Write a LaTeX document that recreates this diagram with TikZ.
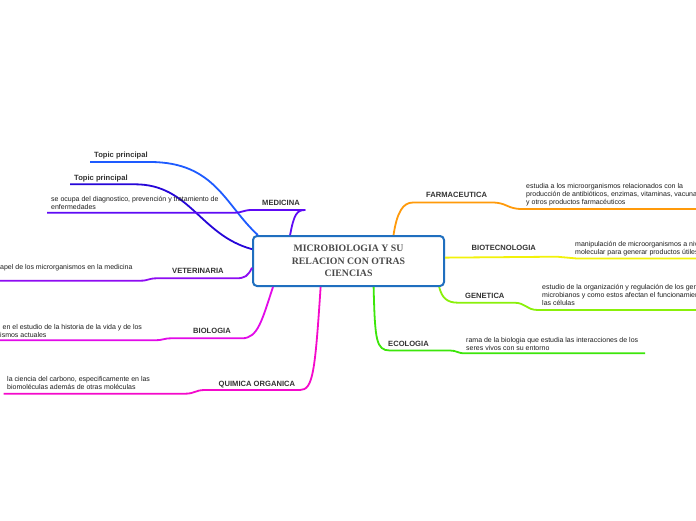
\documentclass[tikz,border=0pt]{standalone}
\usepackage{fontspec}
\setmainfont{Liberation Sans}
\newfontfamily\titlefont{Liberation Serif}
\definecolor{cTopA}{HTML}{1E5BFF}
\definecolor{cTopB}{HTML}{2606D8}
\definecolor{cMed}{HTML}{5E0AF5}
\definecolor{cVet}{HTML}{8E0CF2}
\definecolor{cBio}{HTML}{E20AE8}
\definecolor{cQui}{HTML}{F40ACB}
\definecolor{cFar}{HTML}{FF9A0A}
\definecolor{cBtc}{HTML}{F2F20A}
\definecolor{cGen}{HTML}{8AF00A}
\definecolor{cEco}{HTML}{3CE60A}
\definecolor{cBox}{HTML}{1F6FBF}
\definecolor{lblgray}{HTML}{333333}
\definecolor{txtgray}{HTML}{1E1E1E}
\definecolor{titlegray}{HTML}{4A4A4A}
\begin{document}
\begin{tikzpicture}[x=1pt,y=-1pt,
  lbl/.style={font=\fontsize{7.6}{9}\selectfont\bfseries, text=lblgray, inner sep=0pt, anchor=base west},
  txt/.style={font=\fontsize{7}{8}\selectfont, text=txtgray, inner sep=0pt, anchor=north west, align=left},
  br/.style={line width=1.8pt, line join=round}]
\useasboundingbox[fill=white] (0,0) rectangle (696,520);

% central topic
\node[draw=cBox, line width=2pt, rounded corners=4pt, fill=white,
      minimum width=191pt, minimum height=50pt, inner sep=0pt,
      align=center, text=titlegray,
      font=\titlefont\bfseries\fontsize{9.8}{12.3}\selectfont] (c) at (348.5,261)
  {MICROBIOLOGIA Y SU\\RELACION CON OTRAS\\CIENCIAS};

% coordinates of line ends
\coordinate (tA1) at (150,162);   \coordinate (tA0) at (90,162);
\coordinate (tB1) at (135,184.3); \coordinate (tB0) at (70,184.3);
\coordinate (med1) at (305,210); \coordinate (med2) at (252,210); \coordinate (med3) at (234,212.7); \coordinate (med0) at (47,212.7);
\coordinate (vet1) at (236,278.3); \coordinate (vet2) at (157,278.3); \coordinate (vet3) at (140,280.7); \coordinate (vet0) at (-5,280.7);
\coordinate (bio1) at (242,338.3); \coordinate (bio2) at (172,338.3); \coordinate (bio3) at (155,340.2); \coordinate (bio0) at (-5,340.2);
\coordinate (qui1) at (300,390); \coordinate (qui2) at (205,390); \coordinate (qui3) at (185,393.7); \coordinate (qui0) at (3.5,393.7);
\coordinate (far1) at (413,202.5); \coordinate (far2) at (492,202.5); \coordinate (far3) at (522,209); \coordinate (far0) at (700,209);
\coordinate (btc2) at (557,256.7); \coordinate (btc3) at (577,258.5); \coordinate (btc0) at (700,258.5);
\coordinate (gen1) at (458,302.7); \coordinate (gen2) at (514,302.7); \coordinate (gen3) at (538,310); \coordinate (gen0) at (700,310);
\coordinate (eco1) at (390,350.5); \coordinate (eco2) at (450,350.5); \coordinate (eco3) at (465,353.3); \coordinate (eco0) at (645,353.3);

% connectors
\draw[br, cTopA] (c.164) .. controls (225,205) and (215,162) .. (tA1) -- (tA0);
\draw[br, cTopB] (c.173) .. controls (200,235) and (190,184.3) .. (tB1) -- (tB0);
\draw[br, cMed] (c.156) .. controls (294,214) and (297,210) .. (med1) -- (med2)
   .. controls (243,210) and (243,212.7) .. (med3) -- (med0);
\draw[br, cVet] (c.184) .. controls (248,276) and (245,278.3) .. (vet1) -- (vet2)
   .. controls (148,278.3) and (149,280.7) .. (vet3) -- (vet0);
\draw[br, cBio] (c.199) .. controls (262,320) and (258,338.3) .. (bio1) -- (bio2)
   .. controls (163,338.3) and (164,340.2) .. (bio3) -- (bio0);
\draw[br, cQui] (c.223) .. controls (315,372) and (313,390) .. (qui1) -- (qui2)
   .. controls (195,390) and (195,393.7) .. (qui3) -- (qui0);
\draw[br, cFar] (c.30) .. controls (397,212) and (403,202.5) .. (far1) -- (far2)
   .. controls (507,202.5) and (507,209) .. (far3) -- (far0);
\draw[br, cBtc] (c.2) -- (btc2)
   .. controls (567,256.7) and (567,258.5) .. (btc3) -- (btc0);
\draw[br, cGen] (c.344) .. controls (442,298) and (447,302.7) .. (gen1) -- (gen2)
   .. controls (526,302.7) and (526,310) .. (gen3) -- (gen0);
\draw[br, cEco] (c.314) .. controls (375,340) and (376,350.5) .. (eco1) -- (eco2)
   .. controls (457,350.5) and (457,353.3) .. (eco3) -- (eco0);

% labels
\node[lbl] (lTA) at (94,157.3) {Topic principal};
\node[lbl] (lTB) at (74,180) {Topic principal};
\node[lbl] (lMed) at (262,205) {MEDICINA};
\node[lbl] (lVet) at (172,273) {VETERINARIA};
\node[lbl] (lBio) at (193,333) {BIOLOGIA};
\node[lbl] (lQui) at (218.5,386) {QUIMICA ORGANICA};
\node[lbl] (lFar) at (426,197) {FARMACEUTICA};
\node[lbl] (lBtc) at (471.5,250.4) {BIOTECNOLOGIA};
\node[lbl] (lGen) at (465,298) {GENETICA};
\node[lbl] (lEco) at (388,346) {ECOLOGIA};

% texts
\node[txt] (tMed) at (51,196.4) {se ocupa del diagnostico, prevención y tratamiento de\\enfermedades};
\node[txt] (tVet) at (0,264) {apel de los microrganismos en la medicina};
\node[txt] (tBio) at (0,324) {\hspace{2.5pt}en el estudio de la historia de la vida y de los\\ismos actuales};
\node[txt] (tQui) at (7,376.7) {la ciencia del carbono, especificamente en las\\biomoléculas además de otras moléculas};
\node[txt] (tFar) at (526,183.7) {estudia a los microorganismos relacionados con la\\producción de antibióticos, enzimas, vitaminas, vacunas\\y otros productos farmacéuticos};
\node[txt] (tBtc) at (575,241) {manipulación de microorganismos a nivel\\molecular para generar productos útiles};
\node[txt] (tGen) at (542,283.7) {estudio de la organización y regulación de los genes\\microbianos y como estos afectan el funcionamiento de\\las células};
\node[txt] (tEco) at (466,337.7) {rama de la biologia que estudia las interacciones de los\\seres vivos con su entorno};
\end{tikzpicture}
\end{document}
